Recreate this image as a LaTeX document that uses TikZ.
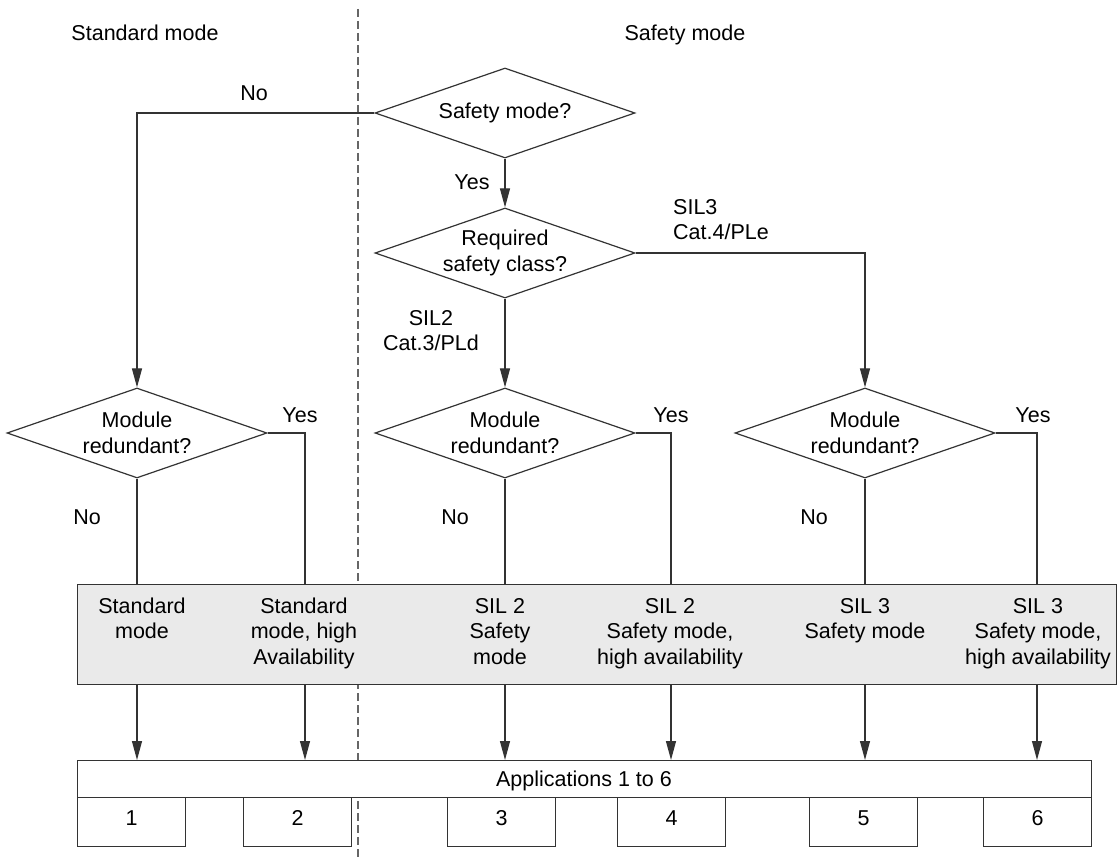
\documentclass[tikz,border=0pt]{standalone}
\usepackage{fontspec}
\setmainfont{Liberation Sans}
\usetikzlibrary{shapes.geometric,arrows.meta}
\definecolor{lc}{HTML}{333333}
\definecolor{boxgray}{HTML}{EAEAEA}
\definecolor{dashc}{HTML}{666666}
\begin{document}
\begin{tikzpicture}[x=1pt,y=-1pt,
  font=\fontsize{21.5}{25.5}\selectfont,
  dec/.style={draw=lc, line width=1.2pt, shape=diamond, aspect=2.89, minimum width=260pt, minimum height=90pt, inner sep=0pt, align=center},
  conn/.style={draw=lc, line width=1.2pt},
  arr/.style={conn, -{Triangle[length=19pt,width=10pt]}},
  lbl/.style={anchor=base, inner sep=0pt, align=center},
  appbox/.style={draw=lc, line width=1.2pt, fill=white, minimum width=108pt, minimum height=49pt, inner sep=0pt, anchor=north west},
  sep/.style={draw=dashc, line width=1.2pt, dash pattern=on 8pt off 4pt}]
\useasboundingbox (0,0) rectangle (1117,858);
% separator
\coordinate (dtop) at (358,9);
\coordinate (dbot) at (358,858);
\draw[sep] (dtop) -- (dbot);
% headings
\node[lbl] (tstd) at (145,41) {Standard mode};
\node[lbl] (tsaf) at (685,41) {Safety mode};
% decisions
\node[dec, fill=white] (q1) at (505,113) {Safety mode?};
\node[dec] (q2) at (505,253) {Required\\safety class?};
\node[dec] (m1) at (137,433) {Module\\redundant?};
\node[dec] (m2) at (505,433) {Module\\redundant?};
\node[dec] (m3) at (865,433) {Module\\redundant?};
% mode box
\node[draw=lc, line width=1.2pt, fill=boxgray, minimum width=1039pt, minimum height=100pt, inner sep=0pt, anchor=north west] (modes) at (77,584) {};
\node[lbl] (c1) at (142,638.5) {Standard\\mode};
\node[lbl] (c2) at (304,664) {Standard\\mode, high\\Availability};
\node[lbl] (c3) at (500,664) {SIL 2\\Safety\\mode};
\node[lbl] (c4) at (670,664) {SIL 2\\Safety mode,\\high availability};
\node[lbl] (c5) at (865,638.5) {SIL 3\\Safety mode};
\node[lbl] (c6) at (1038,664) {SIL 3\\Safety mode,\\high availability};
% applications
\node[draw=lc, line width=1.2pt, fill=white, minimum width=1014pt, minimum height=37pt, inner sep=0pt, anchor=north west] (apps) at (77,760) {};
\node[lbl] (appt) at (584,786) {Applications 1 to 6};
\node[appbox] (a1) at (77,797) {};
\node[appbox] (a2) at (243,797) {};
\node[appbox] (a3) at (447,797) {};
\node[appbox] (a4) at (617,797) {};
\node[appbox] (a5) at (809,797) {};
\node[appbox] (a6) at (983,797) {};
\node[lbl] (n1) at (a1.center |- 0,825) {1};
\node[lbl] (n2) at (a2.center |- 0,825) {2};
\node[lbl] (n3) at (a3.center |- 0,825) {3};
\node[lbl] (n4) at (a4.center |- 0,825) {4};
\node[lbl] (n5) at (a5.center |- 0,825) {5};
\node[lbl] (n6) at (a6.center |- 0,825) {6};
% connectors top
\draw[arr] (q1.west) -| (m1.north);
\draw[arr] (q1.south) -- (q2.north);
\draw[arr] (q2.south) -- (m2.north);
\draw[arr] (q2.east) -| (m3.north);
\node[lbl] (lno0) at (254,101) {No};
\node[lbl] (lyes0) at (472,190) {Yes};
\node[lbl] (lsil2) at (431,351) {SIL2\\Cat.3/PLd};
\node[lbl, align=left, anchor=base west] (lsil3) at (673,240) {SIL3\\Cat.4/PLe};
% branches
\coordinate (y1) at (305,433);
\coordinate (y2) at (671,433);
\coordinate (y3) at (1037,433);
\draw[conn] (m1.south) -- (m1.south |- modes.north);
\draw[conn] (m2.south) -- (m2.south |- modes.north);
\draw[conn] (m3.south) -- (m3.south |- modes.north);
\draw[conn] (m1.east) -- (y1) -- (y1 |- modes.north);
\draw[conn] (m2.east) -- (y2) -- (y2 |- modes.north);
\draw[conn] (m3.east) -- (y3) -- (y3 |- modes.north);
\node[lbl] (ly1) at (300,423) {Yes};
\node[lbl] (ly2) at (671,423) {Yes};
\node[lbl] (ly3) at (1033,423) {Yes};
\node[lbl] (ln1) at (87,524) {No};
\node[lbl] (ln2) at (455,524) {No};
\node[lbl] (ln3) at (814,524) {No};
% arrows to applications
\draw[arr] (modes.south -| m1) -- (apps.north -| m1);
\draw[arr] (modes.south -| y1) -- (apps.north -| y1);
\draw[arr] (modes.south -| m2) -- (apps.north -| m2);
\draw[arr] (modes.south -| y2) -- (apps.north -| y2);
\draw[arr] (modes.south -| m3) -- (apps.north -| m3);
\draw[arr] (modes.south -| y3) -- (apps.north -| y3);
\end{tikzpicture}
\end{document}
